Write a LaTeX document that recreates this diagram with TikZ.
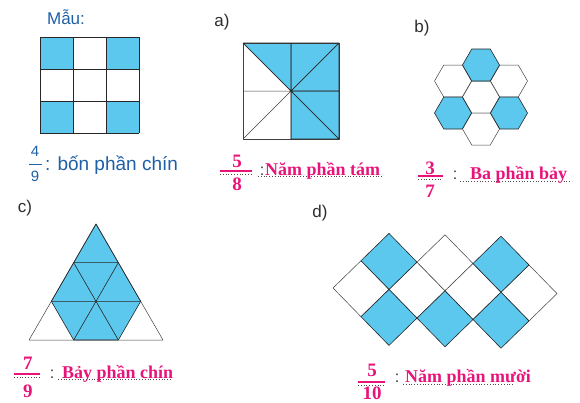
\documentclass[tikz,border=0pt]{standalone}
\usepackage{fontspec}
\setmainfont{Liberation Serif}
\setsansfont{Liberation Sans}
\definecolor{cellblue}{RGB}{92,200,238}
\definecolor{txtblue}{RGB}{30,95,165}
\definecolor{ans}{RGB}{232,20,122}
\definecolor{lbl}{RGB}{45,45,45}
\begin{document}
\begin{tikzpicture}[x=1pt,y=-1pt,
  edge/.style={line width=0.6pt, line join=round, draw=black!85},
  thinedge/.style={line width=0.5pt, line join=round, draw=black!75},
  shade/.style={fill=cellblue},
  lab/.style={font=\sffamily\fontsize{17}{17}\selectfont, text=lbl, inner sep=0},
  frac/.style={font=\bfseries\fontsize{19}{19}\selectfont, text=ans, inner sep=0},
  anstext/.style={font=\bfseries\fontsize{18}{18}\selectfont, text=ans, inner sep=0, anchor=base west},
  colon/.style={font=\sffamily\fontsize{16}{16}\selectfont, text=black!80, inner sep=0, anchor=base},
  dotline/.style={line width=0.8pt, draw=black!70, dash pattern=on 0.8pt off 2pt},
  fbar/.style={draw=ans, line width=1.3pt}
]
\useasboundingbox (0,0) rectangle (580,402);

% ---------- Mau ----------
\node[font=\sffamily\fontsize{17}{17}\selectfont, text=txtblue, inner sep=0] (mau) at (66,17) {Mẫu:};
\foreach \r/\c in {0/0,0/2,2/0,2/2}
  \fill[shade] (40+33*\c,37+32*\r) rectangle ++(33,32);
\foreach \i in {0,...,3} {
  \draw[edge] (40+33*\i,37) -- (40+33*\i,133);
  \draw[edge] (40,37+32*\i) -- (139,37+32*\i);
}
\node[font=\sffamily\fontsize{15}{15}\selectfont, text=txtblue, inner sep=0] (m4) at (35,151) {4};
\draw[txtblue, line width=0.8pt] (29,164.5) -- (42,164.5);
\node[font=\sffamily\fontsize{15}{15}\selectfont, text=txtblue, inner sep=0] (m9) at (35,176) {9};
\node[font=\sffamily\fontsize{19}{19}\selectfont, text=txtblue, inner sep=0, anchor=base west] (mtxt) at (45,170) {: bốn phần chín};

% ---------- a) ----------
\node[lab] (la) at (222,22) {a)};
\coordinate (aTL) at (243,43); \coordinate (aTM) at (291,43); \coordinate (aTR) at (339,43);
\coordinate (aLM) at (243,91); \coordinate (aC) at (291,91);  \coordinate (aRM) at (339,91);
\coordinate (aBL) at (243,139);\coordinate (aBM) at (291,139);\coordinate (aBR) at (339,139);
\fill[shade] (aTL) -- (aTM) -- (aC) -- cycle;
\fill[shade] (aTM) rectangle (aBR);
\draw[thinedge] (aTL) rectangle (aBR);
\draw[thinedge] (aTM) -- (aBM) (aLM) -- (aRM) (aTL) -- (aBR) (aTR) -- (aBL);
\draw[edge] (aTL) -- (aTR) -- (aBR) -- (aBM) -- (aTM) (aTL) -- (aC) -- (aTR) (aC) -- (aBR) (aC) -- (aRM);
\node[frac] (a5) at (237,161) {5};
\draw[dotline] (220,174) -- (252,174);
\draw[fbar] (220,171) -- (252,171);
\node[frac] (a8) at (237,184) {8};
\draw[dotline] (258,176) -- (382,176);
\node[colon] (ac) at (262,175) {:};
\node[anstext] (at) at (265,175) {Năm phần tám};

% ---------- b) ----------
\node[lab] (lb) at (422,28) {b)};
\foreach \cx/\cy in {481/97, 453/81, 509/81, 481/129}
  \filldraw[thinedge, fill=white] (\cx+18.5,\cy) -- (\cx+9.25,\cy+16) -- (\cx-9.25,\cy+16) -- (\cx-18.5,\cy) -- (\cx-9.25,\cy-16) -- (\cx+9.25,\cy-16) -- cycle;
\foreach \cx/\cy in {481/65, 453/113, 509/113}
  \filldraw[edge, fill=cellblue] (\cx+18.5,\cy) -- (\cx+9.25,\cy+16) -- (\cx-9.25,\cy+16) -- (\cx-18.5,\cy) -- (\cx-9.25,\cy-16) -- (\cx+9.25,\cy-16) -- cycle;
\node[frac] (b3) at (430,168) {3};
\draw[dotline] (418,179) -- (443,179);
\draw[fbar] (418,176) -- (443,176);
\node[frac] (b7) at (430,191) {7};
\draw[dotline] (460,181) -- (572,181);
\node[colon] (bc) at (455,179) {:};
\node[anstext] (bt) at (470,179) {Ba phần bảy};

% ---------- c) ----------
\node[lab] (lc) at (25,208) {c)};
\foreach \j in {0,...,3}
  \foreach \k in {0,...,\j}
    \coordinate (c-\j-\k) at (96+\k*44.67-\j*22.33, 224+\j*38.67);
\fill[shade] (c-0-0) -- (c-2-2) -- (c-3-2) -- (c-3-1) -- (c-2-0) -- cycle;
\draw[thinedge] (c-0-0) -- (c-3-3) -- (c-3-0) -- cycle;
\draw[edge] (c-0-0) -- (c-2-2) -- (c-3-2) -- (c-3-1) -- (c-2-0) -- cycle;
\draw[edge] (c-1-0) -- (c-1-1) (c-2-0) -- (c-2-2)
            (c-1-1) -- (c-3-1) (c-1-0) -- (c-3-2);
\node[frac] (c7) at (28,363) {7};
\draw[dotline] (14,377) -- (40,377);
\draw[fbar] (14,374) -- (40,374);
\node[frac] (c9) at (28,391) {9};
\draw[dotline] (58,379) -- (172,379);
\node[colon] (cc) at (52,378) {:};
\node[anstext] (ct) at (62,378) {Bảy phần chín};

% ---------- d) ----------
\node[lab] (ld) at (320,213) {d)};
\foreach \i/\J in {1/2, 3/2, 4/1, 5/2, 7/2}
  \filldraw[thinedge, fill=white]
    (333+28*\i-28, 232+28*\J+0.7*\i-0.7) -- (333+28*\i, 232+28*\J-28+0.7*\i)
    -- (333+28*\i+28, 232+28*\J+0.7*\i+0.7) -- (333+28*\i, 232+28*\J+28+0.7*\i) -- cycle;
\foreach \i/\J in {2/1, 2/3, 4/3, 6/1, 6/3}
  \filldraw[edge, fill=cellblue]
    (333+28*\i-28, 232+28*\J+0.7*\i-0.7) -- (333+28*\i, 232+28*\J-28+0.7*\i)
    -- (333+28*\i+28, 232+28*\J+0.7*\i+0.7) -- (333+28*\i, 232+28*\J+28+0.7*\i) -- cycle;
\node[frac] (d5) at (372,370) {5};
\draw[dotline] (358,385) -- (385,385);
\draw[fbar] (358,382) -- (385,382);
\node[frac] (d10) at (372,393) {10};
\draw[dotline] (403,384) -- (513,384);
\node[colon] (dc) at (397,382) {:};
\node[anstext] (dt) at (405,382) {Năm phần mười};
\end{tikzpicture}
\end{document}
